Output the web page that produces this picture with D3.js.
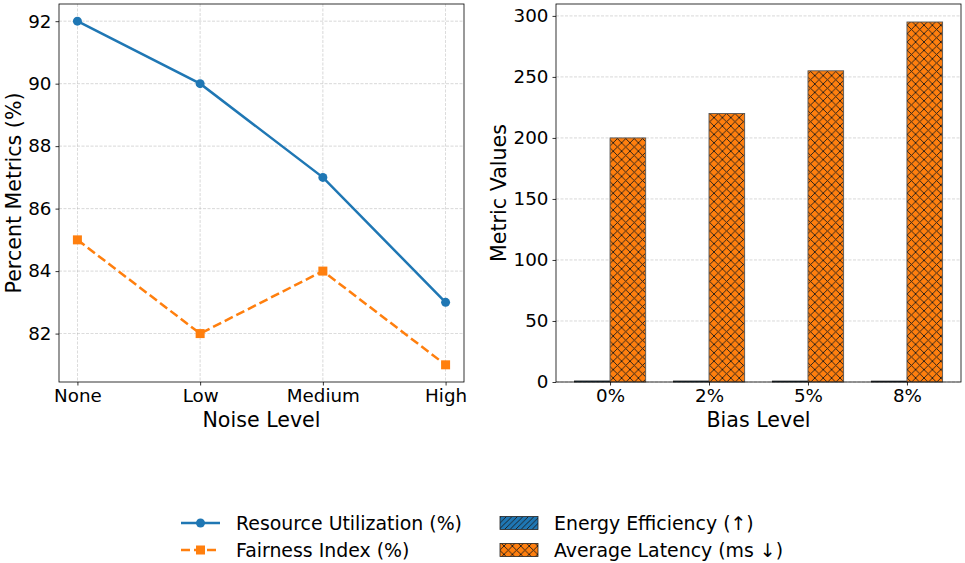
<!DOCTYPE html>
<html>
<head>
<meta charset="utf-8">
<script src="https://cdn.jsdelivr.net/npm/d3@7"></script>
<style>
  body { margin: 0; background: #fff; }
  text { font-family: "DejaVu Sans", sans-serif; fill: #000; }
</style>
</head>
<body>
<script>
// data
var noiseLevels = ["None", "Low", "Medium", "High"];
var resourceUtil = [92, 90, 87, 83];
var fairnessIdx = [85, 82, 84, 81];

var biasLevels = ["0%", "2%", "5%", "8%"];
var energyEff = [0.85, 0.82, 0.78, 0.75];
var avgLatency = [200, 220, 255, 295];

var leftTicks = [82, 84, 86, 88, 90, 92];
var rightTicks = [0, 50, 100, 150, 200, 250, 300];

var blue = "#1f77b4", orange = "#ff7f0e";
var W = 965, H = 563;

var svg = d3.select("body").append("svg")
    .attr("width", W)
    .attr("height", H);

var defs = svg.append("defs");
// crosshatch 'xx'
var hp = 8.4;
var px = defs.append("pattern")
    .attr("id", "xhatch")
    .attr("patternUnits", "userSpaceOnUse")
    .attr("width", hp).attr("height", hp);
px.append("rect").attr("width", hp).attr("height", hp).attr("fill", orange);
px.append("path")
    .attr("d", "M0,0L" + hp + "," + hp + "M" + hp + ",0L0," + hp)
    .attr("stroke", "#1a1a1a").attr("stroke-width", 0.9);
// '///'
var pd = defs.append("pattern")
    .attr("id", "dhatch")
    .attr("patternUnits", "userSpaceOnUse")
    .attr("width", 5.5).attr("height", 5.5);
pd.append("rect").attr("width", 5.5).attr("height", 5.5).attr("fill", blue);
pd.append("path")
    .attr("d", "M0,5.5L5.5,0M-1,1L1,-1M4.5,6.5L6.5,4.5")
    .attr("stroke", "#1a1a1a").attr("stroke-width", 0.9);

// ---------- left panel ----------
var L = {left: 59, right: 464, top: 4, bottom: 382};
var x1 = d3.scaleLinear().domain([-0.15, 3.15]).range([L.left, L.right]);
var y1 = d3.scaleLinear().domain([80.45, 92.55]).range([L.bottom, L.top]);

var g1 = svg.append("g");

// grid
g1.append("g").selectAll("line")
    .data(leftTicks).enter().append("line")
    .attr("x1", L.left).attr("x2", L.right)
    .attr("y1", function(d) { return y1(d); })
    .attr("y2", function(d) { return y1(d); })
    .attr("stroke", "#b0b0b0").attr("stroke-width", 0.8)
    .attr("stroke-dasharray", "3,1.5").attr("opacity", 0.6);
g1.append("g").selectAll("line")
    .data(noiseLevels).enter().append("line")
    .attr("y1", L.top).attr("y2", L.bottom)
    .attr("x1", function(d, i) { return x1(i); })
    .attr("x2", function(d, i) { return x1(i); })
    .attr("stroke", "#b0b0b0").attr("stroke-width", 0.8)
    .attr("stroke-dasharray", "3,1.5").attr("opacity", 0.6);

// lines
var line1 = d3.line()
    .x(function(d, i) { return x1(i); })
    .y(function(d) { return y1(d); });

g1.append("path").datum(resourceUtil)
    .attr("d", line1).attr("fill", "none")
    .attr("stroke", blue).attr("stroke-width", 2.5);
g1.append("g").selectAll("circle")
    .data(resourceUtil).enter().append("circle")
    .attr("cx", function(d, i) { return x1(i); })
    .attr("cy", function(d) { return y1(d); })
    .attr("r", 4.5).attr("fill", blue);

g1.append("path").datum(fairnessIdx)
    .attr("d", line1).attr("fill", "none")
    .attr("stroke", orange).attr("stroke-width", 2.5)
    .attr("stroke-dasharray", "9,4");
g1.append("g").selectAll("rect")
    .data(fairnessIdx).enter().append("rect")
    .attr("x", function(d, i) { return x1(i) - 4.5; })
    .attr("y", function(d) { return y1(d) - 4.5; })
    .attr("width", 9).attr("height", 9).attr("fill", orange);

// axes
g1.append("g")
    .attr("transform", "translate(0," + L.bottom + ")")
    .call(d3.axisBottom(x1).tickValues([0, 1, 2, 3])
        .tickFormat(function(d) { return noiseLevels[d]; })
        .tickSizeOuter(0).tickSize(3.5).tickPadding(4));
g1.append("g")
    .attr("transform", "translate(" + L.left + ",0)")
    .call(d3.axisLeft(y1).tickValues(leftTicks)
        .tickSizeOuter(0).tickSize(3.5).tickPadding(4));
g1.append("rect")
    .attr("x", L.left).attr("y", L.top)
    .attr("width", L.right - L.left).attr("height", L.bottom - L.top)
    .attr("fill", "none").attr("stroke", "#000").attr("stroke-width", 0.8);

g1.append("text")
    .attr("x", (L.left + L.right) / 2).attr("y", 427)
    .attr("text-anchor", "middle").style("font-size", "20.6px")
    .text("Noise Level");
g1.append("text")
    .attr("transform", "translate(21," + (L.top + L.bottom) / 2 + ") rotate(-90)")
    .attr("text-anchor", "middle").style("font-size", "20.6px")
    .text("Percent Metrics (%)");

// ---------- right panel ----------
var R = {left: 556, right: 961, top: 4, bottom: 382};
var bw = 0.36;
var x2 = d3.scaleLinear()
    .domain([-bw - 0.05 * (3 + 2 * bw), 3 + bw + 0.05 * (3 + 2 * bw)])
    .range([R.left, R.right]);
var y2 = d3.scaleLinear().domain([0, 309.75]).range([R.bottom, R.top]);

var g2 = svg.append("g");

g2.append("g").selectAll("line")
    .data(rightTicks).enter().append("line")
    .attr("x1", R.left).attr("x2", R.right)
    .attr("y1", function(d) { return y2(d); })
    .attr("y2", function(d) { return y2(d); })
    .attr("stroke", "#b0b0b0").attr("stroke-width", 0.8)
    .attr("stroke-dasharray", "3,1.5").attr("opacity", 0.6);

g2.append("g").selectAll("rect")
    .data(energyEff).enter().append("rect")
    .attr("x", function(d, i) { return x2(i - bw); })
    .attr("y", function(d) { return y2(d); })
    .attr("width", x2(bw) - x2(0))
    .attr("height", function(d) { return y2(0) - y2(d); })
    .attr("fill", "url(#dhatch)")
    .attr("stroke", "#222").attr("stroke-width", 0.8);

g2.append("g").selectAll("rect")
    .data(avgLatency).enter().append("rect")
    .attr("x", function(d, i) { return x2(i); })
    .attr("y", function(d) { return y2(d); })
    .attr("width", x2(bw) - x2(0))
    .attr("height", function(d) { return y2(0) - y2(d); })
    .attr("fill", "url(#xhatch)")
    .attr("stroke", "#555").attr("stroke-width", 0.9);

g2.append("g")
    .attr("transform", "translate(0," + R.bottom + ")")
    .call(d3.axisBottom(x2).tickValues([0, 1, 2, 3])
        .tickFormat(function(d) { return biasLevels[d]; })
        .tickSizeOuter(0).tickSize(3.5).tickPadding(4));
g2.append("g")
    .attr("transform", "translate(" + R.left + ",0)")
    .call(d3.axisLeft(y2).tickValues(rightTicks)
        .tickSizeOuter(0).tickSize(3.5).tickPadding(4));
g2.append("rect")
    .attr("x", R.left).attr("y", R.top)
    .attr("width", R.right - R.left).attr("height", R.bottom - R.top)
    .attr("fill", "none").attr("stroke", "#000").attr("stroke-width", 0.8);

g2.append("text")
    .attr("x", (R.left + R.right) / 2).attr("y", 427)
    .attr("text-anchor", "middle").style("font-size", "20.6px")
    .text("Bias Level");
g2.append("text")
    .attr("transform", "translate(506," + (R.top + R.bottom) / 2 + ") rotate(-90)")
    .attr("text-anchor", "middle").style("font-size", "20.6px")
    .text("Metric Values");

// tick styling
svg.selectAll(".tick text").style("font-size", "18.3px").attr("fill", "#000");
svg.selectAll(".tick line").attr("stroke", "#000").attr("stroke-width", 0.8);
svg.selectAll(".domain").remove();

// ---------- legend ----------
var lg = svg.append("g");
var rows = [523, 550];
var lfs = "18.9px";
lg.append("line").attr("x1", 181).attr("x2", 220)
    .attr("y1", rows[0]).attr("y2", rows[0])
    .attr("stroke", blue).attr("stroke-width", 2.5);
lg.append("circle").attr("cx", 200.5).attr("cy", rows[0]).attr("r", 4.5).attr("fill", blue);
lg.append("line").attr("x1", 181).attr("x2", 220)
    .attr("y1", rows[1]).attr("y2", rows[1])
    .attr("stroke", orange).attr("stroke-width", 2.5)
    .attr("stroke-dasharray", "9,4");
lg.append("rect").attr("x", 196).attr("y", rows[1] - 4.5)
    .attr("width", 9).attr("height", 9).attr("fill", orange);
lg.append("text").attr("x", 236).attr("y", rows[0]).attr("dy", "0.35em")
    .style("font-size", lfs).text("Resource Utilization (%)");
lg.append("text").attr("x", 236).attr("y", rows[1]).attr("dy", "0.35em")
    .style("font-size", lfs).text("Fairness Index (%)");

lg.append("rect").attr("x", 500).attr("y", rows[0] - 6.5)
    .attr("width", 38).attr("height", 13)
    .attr("fill", "url(#dhatch)").attr("stroke", "#222").attr("stroke-width", 0.8);
lg.append("rect").attr("x", 500).attr("y", rows[1] - 6.5)
    .attr("width", 38).attr("height", 13)
    .attr("fill", "url(#xhatch)").attr("stroke", "#222").attr("stroke-width", 0.8);
lg.append("text").attr("x", 554).attr("y", rows[0]).attr("dy", "0.35em")
    .style("font-size", lfs).text("Energy Efficiency (↑)");
lg.append("text").attr("x", 554).attr("y", rows[1]).attr("dy", "0.35em")
    .style("font-size", lfs).text("Average Latency (ms ↓)");
</script>
</body>
</html>
